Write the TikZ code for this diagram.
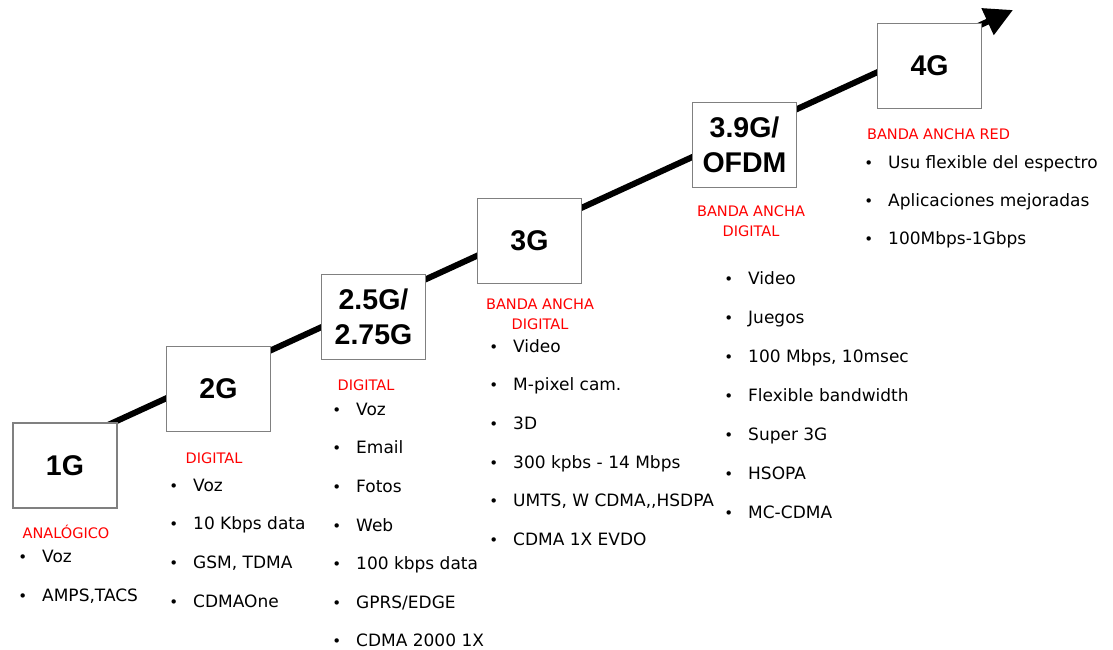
\documentclass[tikz,border=0pt]{standalone}
\usepackage{fontspec}
\setmainfont{DejaVu Sans}
\newfontfamily\boxfont{Liberation Sans}
\usetikzlibrary{arrows.meta}
\definecolor{boxgray}{RGB}{128,128,128}
\newcommand\bul{\llap{{\fontsize{15}{15}\selectfont\textbullet}\hspace{15pt}}}
\begin{document}
\begin{tikzpicture}[x=1pt,y=-1pt,
  gen/.style={draw=boxgray, line width=1.5pt, fill=white, minimum width=104pt,
    minimum height=85pt, inner sep=0pt, align=center,
    font=\boxfont\bfseries\fontsize{28.5}{35}\selectfont},
  hdr/.style={text=red, align=center, inner sep=0pt,
    font=\fontsize{14.5}{19.5}\selectfont},
  item/.style={anchor=base west, inner sep=0pt, font=\fontsize{17}{20}\selectfont},
  trend/.style={line width=6pt, -{Triangle[length=28pt,width=28pt]}}]
\useasboundingbox (0,0) rectangle (1113,650);
% trend line (behind the boxes)
\coordinate (s) at (60,447);
\coordinate (e) at (1013,10);
\draw[trend] (s) -- (e);
% generation boxes
\node[gen] (g1) at (65,465.5) {1G};
\node[gen] (g2) at (218.5,389) {2G};
\node[gen] (g25) at (373.5,317) {2.5G/\\2.75G};
\node[gen] (g3) at (529.5,241) {3G};
\node[gen] (g39) at (744.5,145) {3.9G/\\OFDM};
\node[gen] (g4) at (929.5,66) {4G};
% red headers
\node[hdr, anchor=base] (h1) at (66,538.3) {ANALÓGICO};
\node[hdr, anchor=base] (h2) at (214,463.3) {DIGITAL};
\node[hdr, anchor=base] (h25) at (366,390.3) {DIGITAL};
\node[hdr, anchor=north] (h3) at (540,298.7) {BANDA ANCHA\\DIGITAL};
\node[hdr, anchor=north] (h39) at (751,205.7) {BANDA ANCHA\\DIGITAL};
\node[hdr, anchor=base] (h4) at (938.5,139.3) {BANDA ANCHA RED};
% bullet lists
\foreach \t [count=\i] in {Voz, {AMPS,TACS}}
  \node[item] (a\i) at (42,{556+6.2+(\i-1)*39}) {\bul\t};
\foreach \t [count=\i] in {Voz, 10 Kbps data, {GSM, TDMA}, CDMAOne}
  \node[item] (b\i) at (193,{485+6.2+(\i-1)*38.7}) {\bul\t};
\foreach \t [count=\i] in {Voz, Email, Fotos, Web, 100 kbps data, GPRS/EDGE, CDMA 2000 1X}
  \node[item] (c\i) at (356,{409+6.2+(\i-1)*38.6}) {\bul\t};
\foreach \t [count=\i] in {Video, M-pixel cam., 3D, 300 kpbs - 14 Mbps, {UMTS, W CDMA{,}{,}HSDPA}, CDMA 1X EVDO}
  \node[item] (d\i) at (513,{346+6.2+(\i-1)*38.6}) {\bul\t};
\foreach \t [count=\i] in {Video, Juegos, {100 Mbps, 10msec}, Flexible bandwidth, Super 3G, HSOPA, MC-CDMA}
  \node[item] (f\i) at (748,{278+6.2+(\i-1)*39}) {\bul\t};
\foreach \t [count=\i] in {Usu flexible del espectro, Aplicaciones mejoradas, 100Mbps-1Gbps}
  \node[item] (k\i) at (888,{162+6.2+(\i-1)*38}) {\bul\t};
\end{tikzpicture}
\end{document}
